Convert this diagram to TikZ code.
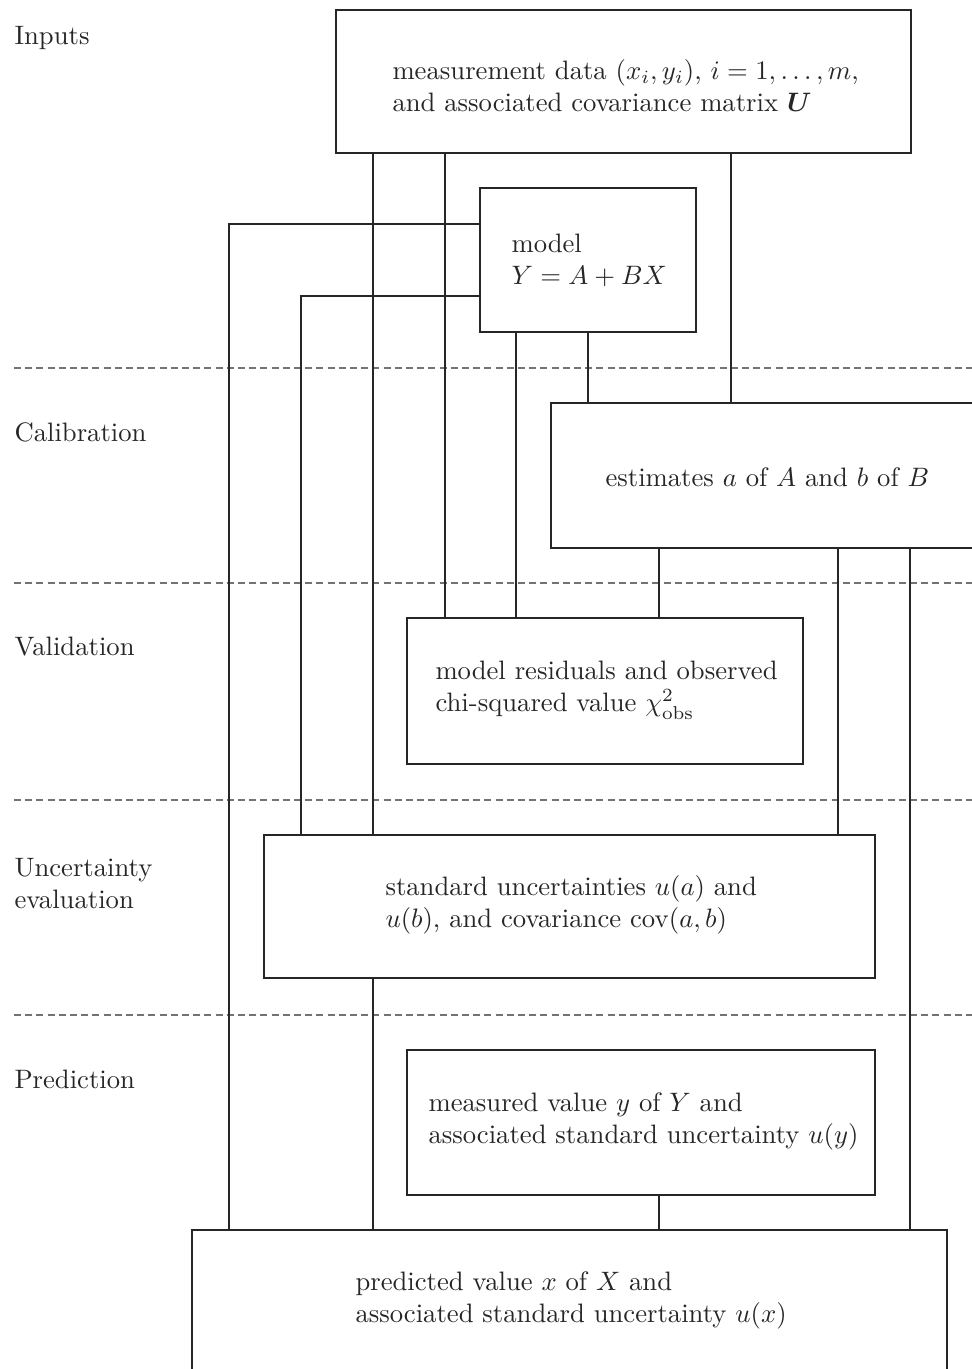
\documentclass[tikz,border=0pt]{standalone}
\usepackage{amsmath}
\usetikzlibrary{calc}
\begin{document}
\begin{tikzpicture}[x=0.375pt,y=-0.375pt,
  box/.style n args={2}{draw=black!85, line width=0.6pt, minimum width=#1*0.375pt, minimum height=#2*0.375pt, inner sep=0pt},
  txt/.style={anchor=west, align=left, inner sep=0pt, text=black!85},
  conn/.style={draw=black!85, line width=0.6pt},
  sepline/.style={draw=black!55, line width=0.6pt, dash pattern=on 2.6pt off 1.6pt}]
\useasboundingbox (0,0) rectangle (972,1369);
\clip (0,0) rectangle (972,1369);

% column / row helpers
\coordinate (x229) at (229,0);
\coordinate (x301) at (301,0);
\coordinate (x373) at (373,0);
\coordinate (x445) at (445,0);
\coordinate (x516) at (516,0);
\coordinate (x588) at (588,0);
\coordinate (x659) at (659,0);
\coordinate (x731) at (731,0);
\coordinate (x838) at (838,0);
\coordinate (x910) at (910,0);
\coordinate (y224) at (0,224);
\coordinate (y296) at (0,296);

% stage separators
\coordinate (s1a) at (14,368);  \coordinate (s1b) at (972,368);
\coordinate (s2a) at (14,583);  \coordinate (s2b) at (972,583);
\coordinate (s3a) at (14,800);  \coordinate (s3b) at (972,800);
\coordinate (s4a) at (14,1015); \coordinate (s4b) at (972,1015);
\draw[sepline] (s1a) -- (s1b);
\draw[sepline] (s2a) -- (s2b);
\draw[sepline] (s3a) -- (s3b);
\draw[sepline] (s4a) -- (s4b);

% stage labels
\node[txt] (lInputs) at (14,38) {Inputs};
\node[txt] (lCal) at (14,432) {Calibration};
\node[txt] (lVal) at (14,647) {Validation};
\node[txt] (lUnc) at (14,884) {Uncertainty\\evaluation};
\node[txt] (lPred) at (14,1079) {Prediction};

% boxes
\node[box={575}{143}] (meas) at (623.5,81.5) {};
\node[box={216}{144}] (model) at (588,260) {};
\node[box={480}{145}] (est) at (791,475.5) {};
\node[box={396}{146}] (res) at (605,691) {};
\node[box={611}{143}] (unc) at (569.5,906.5) {};
\node[box={468}{145}] (my) at (641,1122.5) {};
\node[box={755}{150}] (pred) at (569.5,1305) {};

% box texts
\node[txt] (measT) at (392,86) {measurement data $(x_i,y_i)$, $i=1,\ldots,m$,\\and associated covariance matrix $\boldsymbol{U}$};
\node[txt] (modelT) at (511,260) {model\\$Y=A+BX$};
\node[txt] (estT) at (605,477) {estimates $a$ of $A$ and $b$ of $B$};
\node[txt] (resT) at (435,690) {model residuals and observed\\chi-squared value $\chi^2_{\mathrm{obs}}$};
\node[txt] (uncT) at (385,905) {standard uncertainties $u(a)$ and\\$u(b)$, and covariance $\mathrm{cov}(a,b)$};
\node[txt] (myT) at (428,1121) {measured value $y$ of $Y$ and\\associated standard uncertainty $u(y)$};
\node[txt] (predT) at (355,1300) {predicted value $x$ of $X$ and\\associated standard uncertainty $u(x)$};

% connectors
\draw[conn] (meas.south -| x373) -- (unc.north -| x373);
\draw[conn] (unc.south -| x373) -- (pred.north -| x373);
\draw[conn] (meas.south -| x445) -- (res.north -| x445);
\draw[conn] (meas.south -| x731) -- (est.north -| x731);
\draw[conn] (model.west |- y224) -| (pred.north -| x229);
\draw[conn] (model.west |- y296) -| (unc.north -| x301);
\draw[conn] (model.south -| x516) -- (res.north -| x516);
\draw[conn] (model.south -| x588) -- (est.north -| x588);
\draw[conn] (est.south -| x659) -- (res.north -| x659);
\draw[conn] (est.south -| x838) -- (unc.north -| x838);
\draw[conn] (est.south -| x910) -- (pred.north -| x910);
\draw[conn] (my.south -| x659) -- (pred.north -| x659);
\end{tikzpicture}
\end{document}
